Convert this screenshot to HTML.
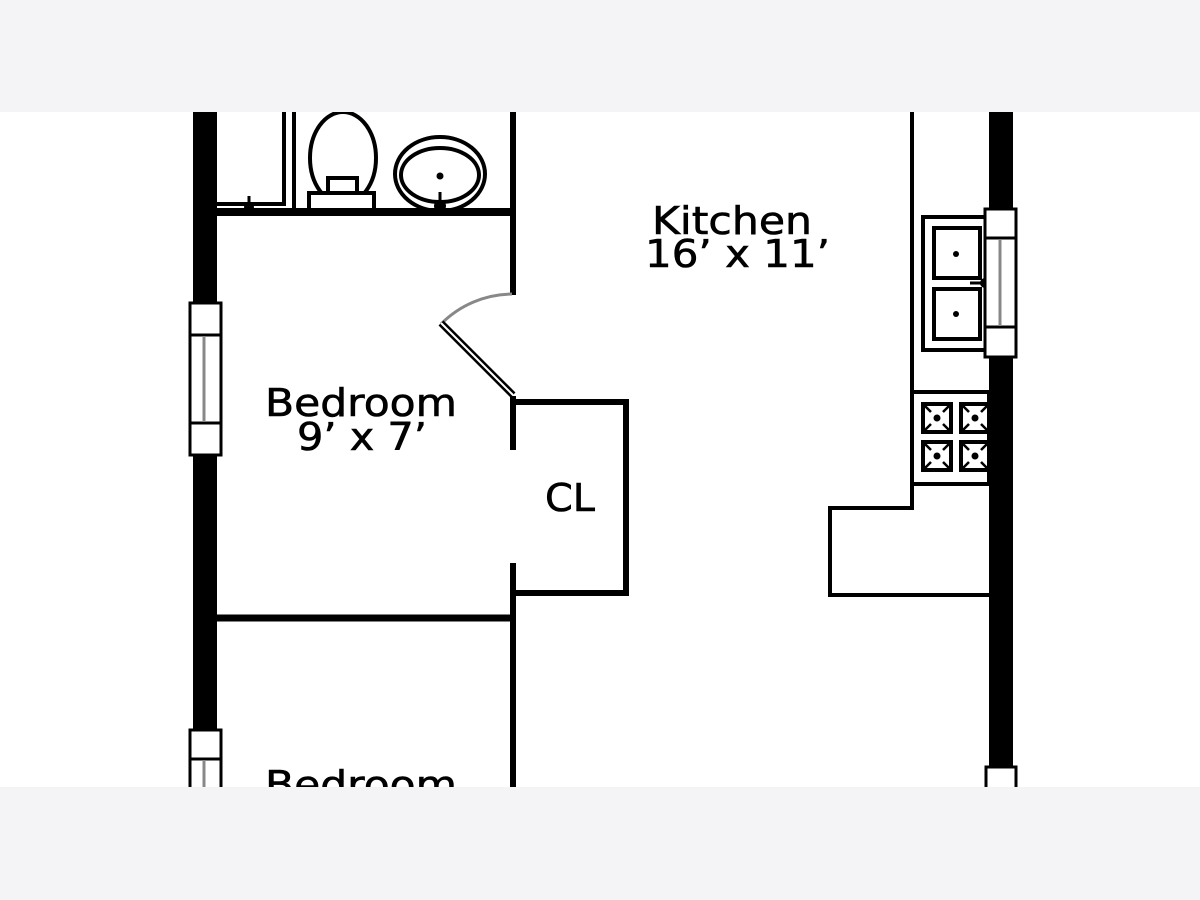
<!DOCTYPE html>
<html><head><style>html,body{margin:0;padding:0;background:#fff}svg{display:block}</style></head>
<body>
<svg width="1200" height="900" viewBox="0 0 1200 900" xmlns="http://www.w3.org/2000/svg">
<rect width="1200" height="900" fill="#fff"/>
<g fill="none" stroke="#000">
<rect x="193" y="100" width="24" height="203" fill="#000" stroke="none"/>
<rect x="193" y="455" width="24" height="275" fill="#000" stroke="none"/>
<rect x="190" y="303" width="31" height="152" fill="#fff" stroke-width="3"/>
<line x1="190" y1="335" x2="221" y2="335" stroke-width="3"/>
<line x1="190" y1="423" x2="221" y2="423" stroke-width="3"/>
<line x1="204" y1="336" x2="204" y2="422" stroke="#888" stroke-width="3"/>
<rect x="190" y="730" width="31" height="80" fill="#fff" stroke-width="3"/>
<line x1="190" y1="759" x2="221" y2="759" stroke-width="3"/>
<line x1="204" y1="760" x2="204" y2="800" stroke="#888" stroke-width="3"/>
<line x1="217" y1="212" x2="516" y2="212" stroke-width="8"/>
<line x1="513" y1="100" x2="513" y2="295" stroke-width="6"/>
<polyline points="217,204 284,204 284,100" stroke-width="4"/>
<line x1="294" y1="100" x2="294" y2="210" stroke-width="4"/>
<line x1="249" y1="196" x2="249" y2="208" stroke-width="3"/>
<circle cx="249" cy="207" r="5" fill="#000" stroke="none"/>
<ellipse cx="343" cy="158" rx="33" ry="46" fill="#fff" stroke-width="4"/>
<rect x="328" y="178" width="29" height="15" fill="#fff" stroke-width="4"/>
<rect x="309" y="193" width="65" height="17" fill="#fff" stroke-width="4"/>
<ellipse cx="440" cy="174" rx="45" ry="37" stroke-width="4"/>
<ellipse cx="440" cy="175" rx="39" ry="27" stroke-width="4"/>
<circle cx="440" cy="176" r="3.5" fill="#000" stroke="none"/>
<line x1="440" y1="192" x2="440" y2="206" stroke-width="3"/>
<circle cx="440" cy="206" r="6" fill="#000" stroke="none"/>
<path d="M512 294 A101 101 0 0 0 441 324" stroke="#888" stroke-width="3"/>
<line x1="441" y1="323" x2="513" y2="395" stroke-width="7"/>
<line x1="441" y1="323" x2="513" y2="395" stroke="#fff" stroke-width="2"/>
<line x1="513" y1="396" x2="513" y2="450" stroke-width="6"/>
<polyline points="513,402 626,402 626,593 513,593" stroke-width="6"/>
<line x1="513" y1="563" x2="513" y2="800" stroke-width="6"/>
<line x1="217" y1="618" x2="513" y2="618" stroke-width="7"/>
<line x1="912" y1="100" x2="912" y2="392" stroke-width="4"/>
<polyline points="912,484 912,508 830,508 830,595 992,595" stroke-width="4"/>
<rect x="989" y="100" width="24" height="700" fill="#000" stroke="none"/>
<rect x="923" y="217" width="64" height="133" fill="#fff" stroke-width="4"/>
<rect x="934" y="228" width="46" height="50" stroke-width="4"/>
<rect x="934" y="289" width="46" height="50" stroke-width="4"/>
<circle cx="956" cy="254" r="3" fill="#000" stroke="none"/>
<circle cx="956" cy="314" r="3" fill="#000" stroke="none"/>
<line x1="970" y1="283" x2="985" y2="283" stroke-width="3"/>
<circle cx="985" cy="283" r="5" fill="#000" stroke="none"/>
<rect x="985" y="209" width="31" height="148" fill="#fff" stroke-width="3"/>
<line x1="985" y1="238" x2="1016" y2="238" stroke-width="3"/>
<line x1="985" y1="327" x2="1016" y2="327" stroke-width="3"/>
<line x1="1000" y1="240" x2="1000" y2="326" stroke="#888" stroke-width="3"/>
<rect x="912" y="392" width="77" height="92" fill="#fff" stroke-width="4"/>
<g stroke-width="4">
<rect x="923" y="404" width="28" height="28"/><rect x="961" y="404" width="28" height="28"/>
<rect x="923" y="442" width="28" height="28"/><rect x="961" y="442" width="28" height="28"/>
</g>
<g stroke-width="2.5">
<path d="M925 406 l6 6 M949 406 l-6 6 M925 430 l6 -6 M949 430 l-6 -6"/>
<path d="M963 406 l6 6 M987 406 l-6 6 M963 430 l6 -6 M987 430 l-6 -6"/>
<path d="M925 444 l6 6 M949 444 l-6 6 M925 468 l6 -6 M949 468 l-6 -6"/>
<path d="M963 444 l6 6 M987 444 l-6 6 M963 468 l6 -6 M987 468 l-6 -6"/>
</g>
<circle cx="937" cy="418" r="3.5" fill="#000" stroke="none"/><circle cx="975" cy="418" r="3.5" fill="#000" stroke="none"/>
<circle cx="937" cy="456" r="3.5" fill="#000" stroke="none"/><circle cx="975" cy="456" r="3.5" fill="#000" stroke="none"/>
<rect x="989" y="395" width="24" height="90" fill="#000" stroke="none"/>
<rect x="986" y="767" width="30" height="40" fill="#fff" stroke-width="3"/>
</g>
<g font-family="DejaVu Sans, sans-serif" font-size="38" fill="#000" stroke="#000" stroke-width="0.6">
<text x="652" y="234" textLength="160" lengthAdjust="spacingAndGlyphs">Kitchen</text>
<text x="645" y="267" textLength="185" lengthAdjust="spacingAndGlyphs">16’ x 11’</text>
<text x="265" y="416" textLength="192" lengthAdjust="spacingAndGlyphs">Bedroom</text>
<text x="297" y="450" textLength="130" lengthAdjust="spacingAndGlyphs">9’ x 7’</text>
<text x="545" y="511" textLength="50" lengthAdjust="spacingAndGlyphs">CL</text>
<text x="265" y="798" textLength="192" lengthAdjust="spacingAndGlyphs">Bedroom</text>
</g>
<rect x="0" y="0" width="1200" height="112" fill="#f4f3f6"/>
<rect x="0" y="787" width="1200" height="113" fill="#f4f3f6"/>
</svg>
</body></html>
